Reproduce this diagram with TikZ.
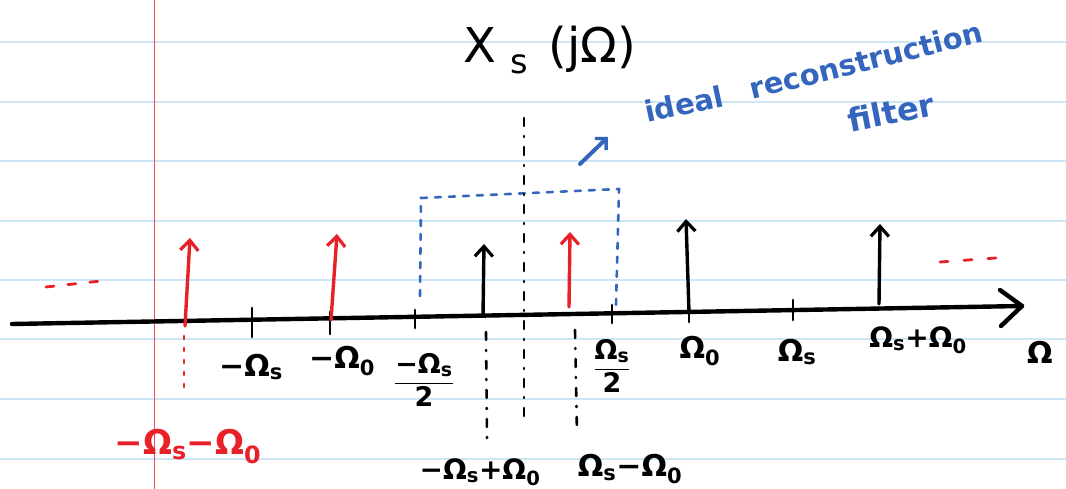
\documentclass[tikz,border=0pt]{standalone}
\usepackage{fontspec}
\setmainfont{DejaVu Sans}
\usetikzlibrary{arrows.meta}
\definecolor{penred}{RGB}{232,32,40}
\definecolor{penblue}{RGB}{52,102,190}
\definecolor{ruleblue}{RGB}{204,230,246}
\definecolor{marginred}{RGB}{236,80,80}
\tikzset{
  pen/.style={line width=4.4pt, line cap=round},
  impulse/.style={line width=3.4pt, line cap=round, -{Straight Barb[length=10pt,width=18pt,line width=3.2pt]}},
  tickmark/.style={line width=2.8pt, line cap=round},
  dashdot/.style={line width=2.6pt, line cap=round, dash pattern=on 8pt off 10pt on 1pt off 10pt},
  bluedash/.style={penblue, line width=2.6pt, line cap=round, dash pattern=on 6pt off 8pt},
  reddots/.style={penred, line width=2.8pt, line cap=round, dash pattern=on 3pt off 9pt},
  lbl/.style={font=\bfseries\fontsize{30}{34}\selectfont, inner sep=1pt},
  smalllbl/.style={font=\bfseries\fontsize{28}{32}\selectfont, inner sep=1pt},
  fraclbl/.style={font=\bfseries\fontsize{27}{30}\selectfont, inner sep=1pt},
  bluetxt/.style={penblue, font=\bfseries\fontsize{29}{34}\selectfont, inner sep=0pt},
}
\begin{document}
\begin{tikzpicture}[x=1pt,y=-1pt]
\useasboundingbox (0,0) rectangle (1066,489);
\fill[white] (0,0) rectangle (1066,489);
% ruled paper
\foreach \y in {42,102,161,221,280,339,399,459}
  \draw[ruleblue, line width=2.6pt] (0,\y) -- (1066,\y);
\draw[marginred, line width=1pt] (154,0) -- (154,489);

% axis
\coordinate (axL) at (12,324);
\coordinate (axR) at (1022,306);
\coordinate (ah1) at (1000,290);
\coordinate (ah2) at (1001,326);
\draw[pen] (axL) -- (axR);
\draw[pen, line join=round] (ah1) -- (axR) -- (ah2);

% ticks
\coordinate (t1a) at (252,308); \coordinate (t1b) at (252,337);
\coordinate (t2a) at (330,312); \coordinate (t2b) at (330,334);
\coordinate (t3a) at (415,310); \coordinate (t3b) at (415,328);
\coordinate (t4a) at (612,305); \coordinate (t4b) at (612,323);
\coordinate (t5a) at (793,300); \coordinate (t5b) at (793,320);
\coordinate (t6a) at (689,305); \coordinate (t6b) at (689,322);
\foreach \t in {1,...,6} \draw[tickmark] (t\t a) -- (t\t b);

% impulses
\coordinate (r1b) at (185,326); \coordinate (r1t) at (190,238);
\coordinate (r2b) at (331,320); \coordinate (r2t) at (337,234);
\coordinate (k1b) at (483,316); \coordinate (k1t) at (484,244);
\coordinate (r3b) at (569,307); \coordinate (r3t) at (570,232);
\coordinate (k2b) at (689,312); \coordinate (k2t) at (686,219);
\coordinate (k3b) at (879,304); \coordinate (k3t) at (880,224);
\draw[impulse, penred] (r1b) -- (r1t);
\draw[impulse, penred] (r2b) -- (r2t);
\draw[impulse, penred] (r3b) -- (r3t);
\draw[impulse] (k1b) -- (k1t);
\draw[impulse] (k2b) -- (k2t);
\draw[impulse] (k3b) -- (k3t);

% red dotted continuation under first red impulse
\coordinate (rd1) at (184,336); \coordinate (rd2) at (184,390);
\draw[reddots] (rd1) -- (rd2);

% ideal reconstruction filter (blue dashed box)
\coordinate (f1) at (420,296);
\coordinate (f2) at (421,198);
\coordinate (f3) at (619,189);
\coordinate (f4) at (616,305);
\draw[bluedash] (f1) -- (f2) -- (f3) -- (f4);

% vertical dash-dot guides
\coordinate (c1) at (524,118); \coordinate (c2) at (524,424);
\draw[dashdot] (c1) -- (c2);
\coordinate (g1) at (486,332); \coordinate (g2) at (487,440);
\draw[dashdot] (g1) -- (g2);
\coordinate (h1) at (575,330); \coordinate (h2) at (577,434);
\draw[dashdot] (h1) -- (h2);

% red continuation marks
\coordinate (dl1) at (46,287); \coordinate (dl2) at (110,280);
\draw[reddots, dash pattern=on 8pt off 14pt] (dl1) -- (dl2);
\coordinate (dr1) at (940,262); \coordinate (dr2) at (996,258);
\draw[reddots, dash pattern=on 8pt off 16pt] (dr1) -- (dr2);

% title
\node[font=\fontsize{48}{54}\selectfont, inner sep=1pt] (title) at (550,50)
  {X\hspace{14pt}\textsubscript{s}\hspace{20pt}(jΩ)};

% blue annotation
\node[bluetxt, rotate=12] (ideal) at (684,104) {ideal};
\node[bluetxt, rotate=14] (recon) at (866,60) {reconstruction};
\node[bluetxt, rotate=11, font=\bfseries\fontsize{32}{36}\selectfont] (filt) at (891,112) {filter};
\coordinate (ba1) at (580,164);
\coordinate (ba2) at (608,137);
\draw[penblue, line width=4pt, line cap=round, -{Straight Barb[length=8pt,width=16pt,line width=3.4pt]}] (ba1) -- (ba2);

% axis labels
\node[lbl] (lOs) at (251,367) {−Ω\textsubscript{s}};
\node[lbl] (lO0) at (342,361) {−Ω\textsubscript{0}};
\node[fraclbl] (lhs) at (424,380) {$\displaystyle\frac{\mbox{−Ω\textsubscript{s}}}{\mbox{2}}$};
\node[fraclbl] (rhs) at (612,366) {$\displaystyle\frac{\mbox{Ω\textsubscript{s}}}{\mbox{2}}$};
\node[lbl] (rO0) at (700,351) {Ω\textsubscript{0}};
\node[lbl] (rOs) at (797,352) {Ω\textsubscript{s}};
\node[smalllbl] (rsum) at (918,340) {Ω\textsubscript{s}+Ω\textsubscript{0}};
\node[lbl, anchor=west] (omega) at (1026,352) {Ω};
\node[lbl, penred, font=\bfseries\fontsize{34}{38}\selectfont] (lred) at (188,447) {−Ω\textsubscript{s}−Ω\textsubscript{0}};
\node[smalllbl] (lmid) at (480,472) {−Ω\textsubscript{s}+Ω\textsubscript{0}};
\node[smalllbl, font=\bfseries\fontsize{30}{34}\selectfont] (rmid) at (630,469) {Ω\textsubscript{s}−Ω\textsubscript{0}};
\end{tikzpicture}
\end{document}
